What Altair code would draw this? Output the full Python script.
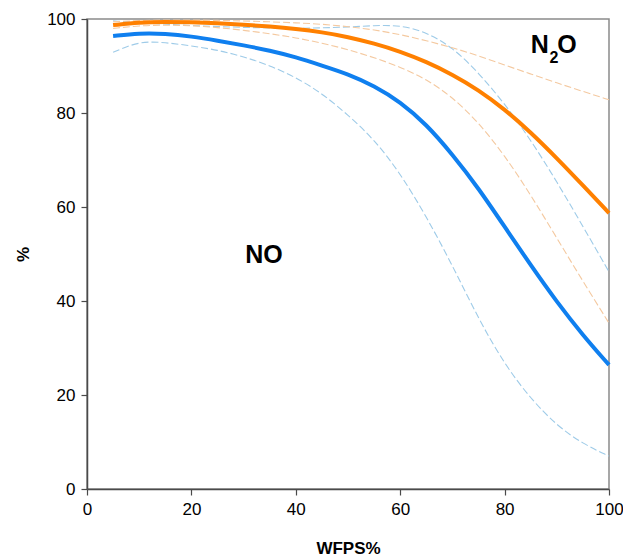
import altair as alt
import pandas as pd

# WFPS% sample positions
wfps = [5, 10, 15, 20, 25, 30, 35, 40, 45, 50, 55, 60, 65, 70, 75, 80, 85, 90, 95, 100]

# NO (blue) mean and confidence bands
no_mean = [96.4, 97.0, 96.9, 96.3, 95.4, 94.4, 93.3, 91.9, 90.1, 88.3, 85.8, 82.4, 77.6, 71.2, 64.0, 55.8, 47.6, 39.8, 32.7, 26.4]
no_upper = [99.6, 99.2, 98.9, 98.6, 98.4, 98.2, 98.1, 98.0, 98.1, 98.3, 98.6, 98.7, 97.2, 94.0, 88.6, 82.0, 74.3, 65.4, 55.9, 46.2]
no_lower = [92.9, 95.3, 95.0, 94.3, 93.4, 92.0, 90.1, 87.6, 84.2, 79.6, 74.4, 67.2, 58.0, 47.6, 36.2, 26.5, 19.2, 13.5, 9.6, 7.0]

# N2O (orange) mean and confidence bands
n2o_mean = [98.7, 99.3, 99.4, 99.3, 99.1, 98.8, 98.4, 97.9, 97.2, 96.2, 94.8, 93.1, 90.9, 88.2, 84.9, 80.8, 75.9, 70.4, 64.6, 58.7]
n2o_upper = [99.4, 99.7, 99.8, 99.8, 99.7, 99.6, 99.4, 99.2, 98.9, 98.4, 97.7, 96.7, 95.4, 93.9, 92.2, 90.2, 88.3, 86.4, 84.6, 82.8]
n2o_lower = [98.0, 98.6, 98.7, 98.6, 98.2, 97.6, 96.9, 96.0, 94.9, 93.5, 91.8, 89.8, 87.2, 83.4, 78.0, 71.0, 62.6, 53.4, 44.2, 35.3]

tick_values = [0, 20, 40, 60, 80, 100]

# annotation labels (data coordinates)
ann_text = ["NO", "N", "2", "O"]
ann_x = [33.9, 85.0, 88.6, 90.1]
ann_y = [48.0, 92.8, 90.6, 92.8]
ann_size = [25, 25, 16, 25]
ann_align = ["center", "left", "left", "left"]

FONT = "Liberation Sans"

x_scale = alt.Scale(domain=[0, 100], nice=False, zero=False)
y_scale = alt.Scale(domain=[0, 100], nice=False, zero=False)

x_axis = alt.Axis(values=tick_values, title="WFPS%", grid=False,
                  titleX=261, titleY=64, titleBaseline="alphabetic", titleAlign="center")
y_axis = alt.Axis(values=tick_values, title="%", grid=False,
                  titleX=-59, titleY=235, titleBaseline="alphabetic", titleAlign="center",
                  titleAngle=270)


def line_layer(ys, color, width, dash=None):
    df = pd.DataFrame({"x": wfps, "y": ys})
    kw = dict(color=color, strokeWidth=width, interpolate="basis")
    if dash:
        kw["strokeDash"] = dash
    return alt.Chart(df).mark_line(**kw).encode(
        x=alt.X("x:Q", scale=x_scale, axis=x_axis),
        y=alt.Y("y:Q", scale=y_scale, axis=y_axis),
    )


DASH = [7, 3]
layers = [
    line_layer(no_upper, "#9ECBE8", 1.1, DASH),
    line_layer(no_lower, "#9ECBE8", 1.1, DASH),
    line_layer(n2o_upper, "#F4C9A0", 1.1, DASH),
    line_layer(n2o_lower, "#F4C9A0", 1.1, DASH),
    line_layer(no_mean, "#0F7FEF", 4),
    line_layer(n2o_mean, "#FF8000", 4),
]

for t, xx, yy, s, a in zip(ann_text, ann_x, ann_y, ann_size, ann_align):
    adf = pd.DataFrame({"x": [xx], "y": [yy], "t": [t]})
    layers.append(
        alt.Chart(adf).mark_text(font=FONT, fontWeight="bold", fontSize=s,
                                 align=a, baseline="alphabetic", color="black").encode(
            x=alt.X("x:Q", scale=x_scale, axis=x_axis),
            y=alt.Y("y:Q", scale=y_scale, axis=y_axis),
            text="t:N",
        )
    )

chart = alt.layer(*layers).properties(
    width=522, height=470,
    padding={"left": 87, "top": 19, "right": 14, "bottom": 67},
    autosize=alt.AutoSizeParams(type="none"),
    background="white",
).configure_view(
    stroke="#8A8A8A", strokeWidth=1.5
).configure_axis(
    domainColor="#4A4A4A", domainWidth=1.5,
    tickColor="#4A4A4A", tickWidth=1.2, tickSize=6,
    labelFont=FONT, labelFontSize=17, labelColor="black", labelPadding=6,
    labelFlush=False,
    titleFont=FONT, titleFontSize=17, titleFontWeight="bold", titleColor="black",
)

chart.save("out.html", embed_options={"renderer": "svg", "actions": False})
